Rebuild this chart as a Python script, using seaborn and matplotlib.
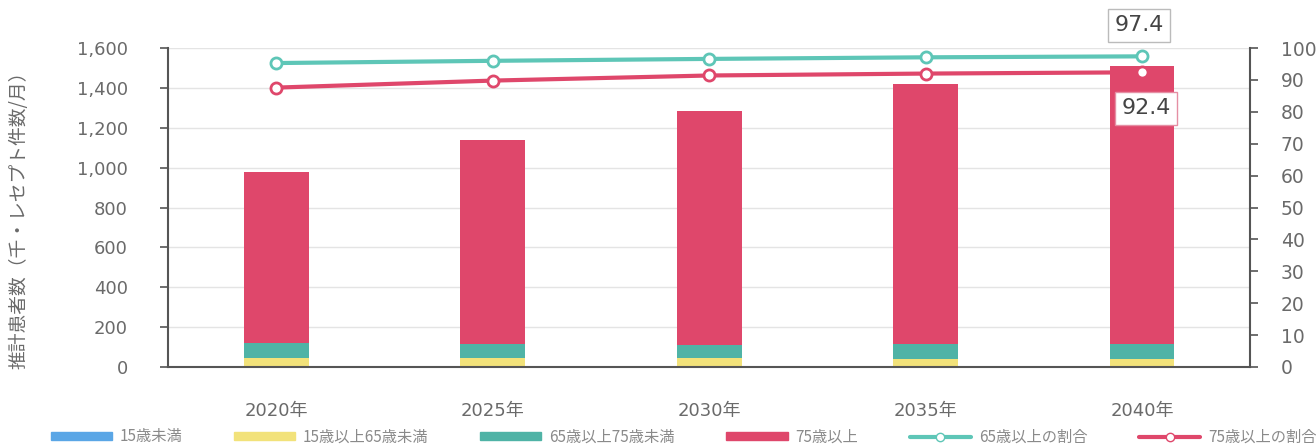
import numpy as np
import pandas as pd
import matplotlib
matplotlib.use("Agg")
import matplotlib.pyplot as plt
from matplotlib.patches import Patch
from matplotlib.lines import Line2D
import seaborn as sns

# 推計患者数（千・レセプト件数/月）
years = ["2020年", "2025年", "2030年", "2035年", "2040年"]
under15 = [4, 4, 3, 3, 3]
age15_64 = [42, 42, 40, 38, 36]
age65_74 = [76, 70, 68, 72, 76]
age75_plus = [858, 1024, 1174, 1307, 1395]

# 割合（%）
ratio65_plus = [95.3, 96.0, 96.6, 97.1, 97.4]
ratio75_plus = [87.6, 89.8, 91.4, 92.0, 92.4]

left_ticks = [0, 200, 400, 600, 800, 1000, 1200, 1400, 1600]
right_ticks = [0, 10, 20, 30, 40, 50, 60, 70, 80, 90, 100]

series_labels = ["15歳未満", "15歳以上65歳未満", "65歳以上75歳未満", "75歳以上",
                 "65歳以上の割合", "75歳以上の割合"]

c_u15 = "#5aa6e6"
c_15_64 = "#f2e27a"
c_65_74 = "#4fb3a6"
c_75 = "#df476b"
c_line65 = "#5ec6b7"
c_line75 = "#df476b"
c_text = "#6a6a6a"

sns.set_style("white")
plt.rcParams["font.family"] = ["DejaVu Sans", "Noto Sans CJK JP"]

df = pd.DataFrame({
    "year": years,
    "u15": under15,
    "a15_64": age15_64,
    "a65_74": age65_74,
    "a75": age75_plus,
})
# cumulative heights, drawn back to front to form stacked bars
df["c1"] = df["u15"]
df["c2"] = df["c1"] + df["a15_64"]
df["c3"] = df["c2"] + df["a65_74"]
df["c4"] = df["c3"] + df["a75"]

fig = plt.figure(figsize=(13.16, 4.45), dpi=100)
ax = fig.add_axes([0.1277, 0.1753, 0.8223, 0.7167])

bw = 0.3
for col, color in [("c4", c_75), ("c3", c_65_74), ("c2", c_15_64), ("c1", c_u15)]:
    sns.barplot(data=df, x="year", y=col, color=color, width=bw,
                saturation=1, ax=ax, zorder=2, linewidth=0)

ax.set_ylim(0, 1600)
ax.set_xlim(-0.5, 4.5)
ax.set_yticks(left_ticks)
ax.set_yticklabels([f"{v:,}" for v in left_ticks])
ax.yaxis.grid(True, color="#e4e4e4", linewidth=1, zorder=0)
ax.set_axisbelow(True)
ax.set_xlabel("")
ax.set_ylabel("推計患者数（千・レセプト件数/月）", fontsize=13.5, color=c_text,
              family=["Noto Sans CJK JP", "DejaVu Sans"])
ax.yaxis.set_label_coords(-0.128, 0.475)
ax.tick_params(axis="y", direction="out", length=6, width=1.2, color="#555555",
               labelsize=13, labelcolor=c_text, pad=23, left=True)
ax.tick_params(axis="x", length=0, labelsize=13, labelcolor=c_text, pad=25)
for s in ["top", "right"]:
    ax.spines[s].set_visible(False)
for s in ["left", "bottom"]:
    ax.spines[s].set_color("#555555")
    ax.spines[s].set_linewidth(1.5)

ax2 = ax.twinx()
xpos = np.arange(len(years))
sns.lineplot(x=xpos, y=ratio65_plus, ax=ax2, color=c_line65, linewidth=3,
             marker="o", markersize=8, markerfacecolor="white",
             markeredgecolor=c_line65, markeredgewidth=2, zorder=3)
sns.lineplot(x=xpos, y=ratio75_plus, ax=ax2, color=c_line75, linewidth=3,
             marker="o", markersize=8, markerfacecolor="white",
             markeredgecolor=c_line75, markeredgewidth=2, zorder=3)
ax2.set_ylim(0, 100)
ax2.set_xlim(-0.5, 4.5)
ax2.set_yticks(right_ticks)
ax2.tick_params(axis="y", direction="out", length=6, width=1.2, color="#555555",
                labelsize=13.5, labelcolor=c_text, pad=16, right=True)
for s in ["top", "left", "bottom"]:
    ax2.spines[s].set_visible(False)
ax2.spines["right"].set_color("#555555")
ax2.spines["right"].set_linewidth(1.5)

# value callouts for the final year
ax2.annotate(f"{ratio65_plus[-1]:.1f}", xy=(xpos[-1], ratio65_plus[-1]),
             xytext=(-3, 31), textcoords="offset pixels", ha="center", va="center",
             fontsize=16, color="#444444",
             bbox=dict(boxstyle="square,pad=0.3", fc="white", ec="#bbbbbb", lw=1),
             zorder=5)
ax2.annotate(f"{ratio75_plus[-1]:.1f}", xy=(xpos[-1], ratio75_plus[-1]),
             xytext=(4, -36), textcoords="offset pixels", ha="center", va="center",
             fontsize=16, color="#444444",
             bbox=dict(boxstyle="square,pad=0.3", fc="white", ec="#e58fa4", lw=1),
             zorder=5)

handles = [
    Patch(color=c_u15), Patch(color=c_15_64), Patch(color=c_65_74), Patch(color=c_75),
    Line2D([0], [0], color=c_line65, lw=3, marker="o", markersize=6,
           markerfacecolor="white", markeredgecolor=c_line65),
    Line2D([0], [0], color=c_line75, lw=3, marker="o", markersize=6,
           markerfacecolor="white", markeredgecolor=c_line75),
]
leg = fig.legend(handles, series_labels, loc="lower left", bbox_to_anchor=(0.028, -0.032),
                 ncol=6, frameon=False, handlelength=4.0, handleheight=0.45,
                 columnspacing=3.4, handletextpad=0.5, labelcolor="#8a8a8a",
                 prop={"family": ["Noto Sans CJK JP", "DejaVu Sans"], "size": 11})

fig.savefig("out.png", dpi=100)
